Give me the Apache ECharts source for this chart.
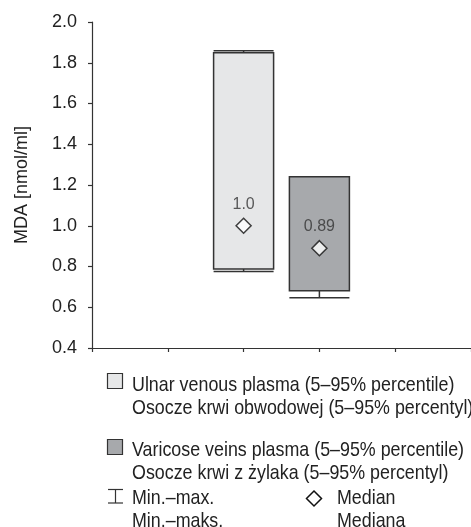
<!DOCTYPE html>
<html>
<head>
<meta charset="utf-8">
<script src="https://cdn.jsdelivr.net/npm/echarts@6/dist/echarts.min.js"></script>
<style>
html,body{margin:0;padding:0;background:#fff;}
#main{width:471px;height:527px;}
</style>
</head>
<body>
<div id="main"></div>
<script>
// ---- data ----
var categories = ['Ulnar venous plasma', 'Varicose veins plasma'];
var xSlots = [2, 3];                 // slot index of each group on the x axis (0..5)
var minValues = [0.775, 0.647];
var p5Values = [0.788, 0.681];
var medianValues = [1.0, 0.89];
var p95Values = [1.849, 1.241];
var maxValues = [1.859, 1.241];
var medianLabels = ['1.0', '0.89'];
var yTicks = [0.4, 0.6, 0.8, 1.0, 1.2, 1.4, 1.6, 1.8, 2.0];
var legendLines = [
  'Ulnar venous plasma (5\u201395% percentile)',
  'Osocze krwi obwodowej (5\u201395% percentyl)',
  'Varicose veins plasma (5\u201395% percentile)',
  'Osocze krwi z \u017cylaka (5\u201395% percentyl)',
  'Min.\u2013max.',
  'Min.\u2013maks.',
  'Median',
  'Mediana'
];

var FONT = '"Liberation Sans", Arial, sans-serif';
var fills = ['#e6e7e8', '#a7a9ac'];
var stroke = '#333';

var boxData = xSlots.map(function (x, i) {
  return [x, minValues[i], p5Values[i], medianValues[i], p95Values[i], maxValues[i]];
});
var medianData = xSlots.map(function (x, i) {
  return { value: [x, medianValues[i]], label: { formatter: medianLabels[i] } };
});

function renderBox(params, api) {
  var x = api.value(0);
  var vMin = api.value(1), vQ1 = api.value(2), vQ3 = api.value(4), vMax = api.value(5);
  var pMin = api.coord([x, vMin]);
  var pQ1 = api.coord([x, vQ1]);
  var pQ3 = api.coord([x, vQ3]);
  var pMax = api.coord([x, vMax]);
  var half = 30;
  var cx = pQ1[0];
  var children = [];
  var ls = { stroke: stroke, lineWidth: 1.5 };
  if (Math.abs(pMax[1] - pQ3[1]) > 0.5) {
    children.push({ type: 'line', shape: { x1: cx, y1: pQ3[1], x2: cx, y2: pMax[1] }, style: ls });
    children.push({ type: 'line', shape: { x1: cx - half, y1: pMax[1], x2: cx + half, y2: pMax[1] }, style: ls });
  }
  if (Math.abs(pMin[1] - pQ1[1]) > 0.5) {
    children.push({ type: 'line', shape: { x1: cx, y1: pQ1[1], x2: cx, y2: pMin[1] }, style: ls });
    children.push({ type: 'line', shape: { x1: cx - half, y1: pMin[1], x2: cx + half, y2: pMin[1] }, style: ls });
  }
  children.push({
    type: 'rect',
    shape: { x: cx - half, y: pQ3[1], width: half * 2, height: pQ1[1] - pQ3[1] },
    style: { fill: fills[params.dataIndex], stroke: stroke, lineWidth: 1.5 }
  });
  return { type: 'group', children: children };
}

var textStyle = { font: '21px ' + FONT, fill: '#222', verticalAlign: 'middle', align: 'left' };
function txt(s, x, y) {
  return { type: 'text', x: x, y: y, scaleX: 0.85, style: Object.assign({ text: s }, textStyle) };
}

var graphics = [
  { type: 'rect', shape: { x: 107.5, y: 373.5, width: 15, height: 15 }, style: { fill: fills[0], stroke: stroke, lineWidth: 1.2 } },
  { type: 'rect', shape: { x: 107.5, y: 439.5, width: 15, height: 15 }, style: { fill: fills[1], stroke: stroke, lineWidth: 1.2 } },
  { type: 'line', shape: { x1: 108, y1: 489.5, x2: 123, y2: 489.5 }, style: { stroke: stroke, lineWidth: 1.2 } },
  { type: 'line', shape: { x1: 115.5, y1: 489.5, x2: 115.5, y2: 503 }, style: { stroke: stroke, lineWidth: 1.2 } },
  { type: 'line', shape: { x1: 108, y1: 503, x2: 123, y2: 503 }, style: { stroke: stroke, lineWidth: 1.2 } },
  { type: 'polygon', shape: { points: [[314, 491], [321.5, 498.5], [314, 506], [306.5, 498.5]] }, style: { fill: '#fff', stroke: '#111', lineWidth: 1.5 } },
  txt(legendLines[0], 132, 385),
  txt(legendLines[1], 132, 408),
  txt(legendLines[2], 132, 450),
  txt(legendLines[3], 132, 473),
  txt(legendLines[4], 132, 498),
  txt(legendLines[5], 132, 521),
  txt(legendLines[6], 337, 498),
  txt(legendLines[7], 337, 521)
];

var chart = echarts.init(document.getElementById('main'), null, { renderer: 'canvas' });
chart.setOption({
  animation: false,
  backgroundColor: '#fff',
  grid: { left: 92, top: 22, right: -2, bottom: 179, containLabel: false },
  xAxis: {
    type: 'value', min: 0, max: 5, interval: 1,
    axisLine: { show: true, lineStyle: { color: stroke, width: 1.2 } },
    axisTick: { show: true, inside: false, length: 4, lineStyle: { color: stroke, width: 1.2 } },
    axisLabel: { show: false },
    splitLine: { show: false }
  },
  yAxis: {
    type: 'value', min: yTicks[0], max: yTicks[yTicks.length - 1], interval: 0.2,
    name: 'MDA [nmol/ml]', nameLocation: 'middle', nameGap: 61,
    nameTextStyle: { fontFamily: FONT, fontSize: 18, color: '#222' },
    axisLine: { show: true, lineStyle: { color: stroke, width: 1.2 } },
    axisTick: { show: true, inside: false, length: 4, lineStyle: { color: stroke, width: 1.2 } },
    axisLabel: {
      margin: 15, fontFamily: FONT, fontSize: 18, color: '#222',
      formatter: function (v) { return v.toFixed(1); }
    },
    splitLine: { show: false }
  },
  series: [
    {
      type: 'custom', name: 'box', renderItem: renderBox, data: boxData,
      encode: { x: 0, y: [1, 2, 3, 4, 5] }, z: 2
    },
    {
      type: 'scatter', name: 'Median', data: medianData,
      symbol: 'diamond', symbolSize: [15, 15],
      itemStyle: { color: '#fff', borderColor: '#111', borderWidth: 1.5 },
      label: { show: true, position: 'top', distance: 5, fontFamily: FONT, fontSize: 16, color: '#333' },
      z: 3
    }
  ],
  graphic: graphics
});
</script>
</body>
</html>
